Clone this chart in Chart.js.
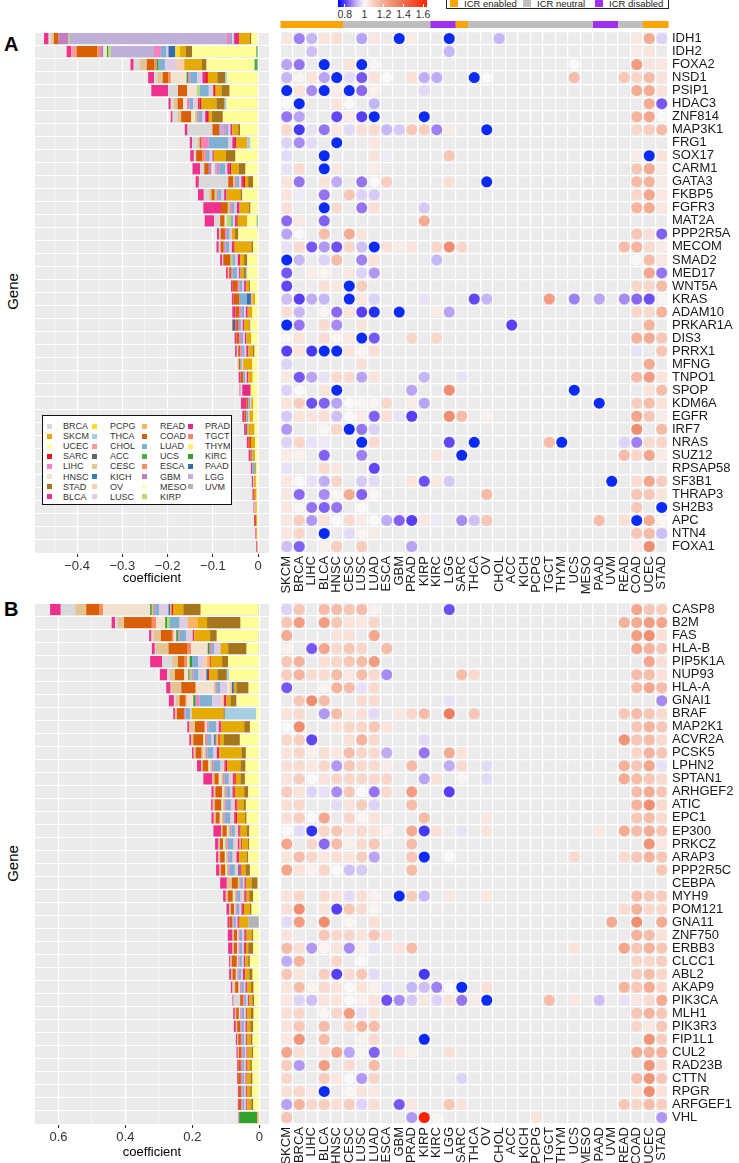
<!DOCTYPE html>
<html>
<head>
<meta charset="utf-8">
<script src="https://cdn.jsdelivr.net/npm/chart.js@4.4.1/dist/chart.umd.min.js"></script>
<style>
  body { margin: 0; width: 739px; height: 1163px; background: #fff; position: relative; overflow: hidden;
         font-family: "Liberation Sans", Arial, sans-serif; }
  canvas { position: absolute; z-index: 1; }
  .abs { position: absolute; white-space: nowrap; }
  #hrLegend, #icrLegend, #typeLegend { position: absolute; left: 0; top: 0; z-index: 5; }
</style>
</head>
<body>
<div class="abs" style="left:4px;top:33px;font-size:20px;font-weight:bold;">A</div>
<div class="abs" style="left:4px;top:598px;font-size:20px;font-weight:bold;">B</div>
<div class="abs" style="left:-8px;top:283px;font-size:15px;transform:rotate(-90deg);width:40px;text-align:center;">Gene</div>
<div class="abs" style="left:-8px;top:855px;font-size:15px;transform:rotate(-90deg);width:40px;text-align:center;">Gene</div>
<div id="hrLegend"></div>
<div id="icrLegend"></div>
<div id="typeLegend"></div>

<canvas id="barA" width="275" height="557" style="left:0;top:32px;"></canvas>
<canvas id="dotA" width="464" height="580" style="left:275px;top:20px;"></canvas>
<canvas id="barB" width="275" height="560" style="left:0;top:603px;"></canvas>
<canvas id="dotB" width="464" height="566" style="left:275px;top:597px;"></canvas>

<script>
// ---- categories ----
const dotCols = ["SKCM","BRCA","LIHC","BLCA","HNSC","CESC","LUSC","LUAD","ESCA","GBM","PRAD","KIRP","KIRC","LGG",
  "SARC","THCA","OV","CHOL","ACC","KICH","PCPG","TGCT","THYM","UCS","MESO","PAAD","UVM","READ","COAD","UCEC","STAD"];
const icrStatus = ["enabled","enabled","enabled","enabled","enabled",
  "neutral","neutral","neutral","neutral","neutral","neutral","neutral",
  "disabled","disabled","enabled",
  "neutral","neutral","neutral","neutral","neutral","neutral","neutral","neutral","neutral","neutral",
  "disabled","disabled","neutral","neutral","enabled","enabled"];
// stacking order of the bar segments (first = farthest from zero)
const stackOrder = ["ACC","BLCA","BRCA","CESC","CHOL","COAD","ESCA","GBM","HNSC","KICH","KIRC","KIRP","LGG","LIHC",
  "LUAD","LUSC","MESO","OV","PAAD","PCPG","PRAD","READ","SARC","SKCM","STAD","TGCT","THCA","THYM","UCEC","UCS","UVM"];
const legendOrder = ["BRCA","SKCM","UCEC","SARC","LIHC","HNSC","STAD","BLCA",
  "PCPG","THCA","CHOL","ACC","CESC","KICH","OV","LUSC",
  "READ","COAD","LUAD","UCS","ESCA","GBM","MESO","KIRP",
  "PRAD","TGCT","THYM","KIRC","PAAD","LGG","UVM"];

const genesA = ["IDH1","IDH2","FOXA2","NSD1","PSIP1","HDAC3","ZNF814","MAP3K1","FRG1","SOX17","CARM1","GATA3","FKBP5",
  "FGFR3","MAT2A","PPP2R5A","MECOM","SMAD2","MED17","WNT5A","KRAS","ADAM10","PRKAR1A","DIS3","PRRX1","MFNG","TNPO1",
  "SPOP","KDM6A","EGFR","IRF7","NRAS","SUZ12","RPSAP58","SF3B1","THRAP3","SH2B3","APC","NTN4","FOXA1"];
const genesB = ["CASP8","B2M","FAS","HLA-B","PIP5K1A","NUP93","HLA-A","GNAI1","BRAF","MAP2K1","ACVR2A","PCSK5","LPHN2",
  "SPTAN1","ARHGEF2","ATIC","EPC1","EP300","PRKCZ","ARAP3","PPP2R5C","CEBPA","MYH9","POM121","GNA11","ZNF750","ERBB3",
  "CLCC1","ABL2","AKAP9","PIK3CA","MLH1","PIK3R3","FIP1L1","CUL2","RAD23B","CTTN","RPGR","ARFGEF1","VHL"];

// ---- tick values ----
const ticksA = [-0.45,-0.4,-0.35,-0.3,-0.25,-0.2,-0.15,-0.1,-0.05,0];
const ticksB = [0.6,0.5,0.4,0.3,0.2,0.1,0];
const hrTicks = [0.8,1,1.2,1.4,1.6];

// ---- coefficients per gene (panel A, negative) ----
const coefA = [
  {BLCA:-.010,BRCA:-.006,CESC:-.006,COAD:-.010,GBM:-.022,KIRP:-.003,LGG:-.347,LIHC:-.007,LUAD:-.005,LUSC:-.004,PRAD:-.009,SARC:-.002,SKCM:-.024,STAD:-.003,UCEC:-.015},
  {BLCA:-.010,CHOL:-.012,COAD:-.046,ESCA:-.006,GBM:-.007,HNSC:-.008,KIRC:-.003,KIRP:-.005,LGG:-.096,LIHC:-.015,LUAD:-.012,LUSC:-.005,PAAD:-.015,PCPG:-.010,SKCM:-.013,STAD:-.014,UCEC:-.142,UCS:-.004},
  {BLCA:-.007,BRCA:-.013,CESC:-.016,COAD:-.017,ESCA:-.005,KIRC:-.004,LUAD:-.014,LUSC:-.027,OV:-.016,SKCM:-.039,STAD:-.010,UCEC:-.106,UCS:-.008},
  {BLCA:-.013,BRCA:-.007,CESC:-.012,COAD:-.013,ESCA:-.005,HNSC:-.035,KIRC:-.004,LIHC:-.004,LUAD:-.015,LUSC:-.012,PRAD:-.006,SARC:-.006,SKCM:-.021,STAD:-.017,THCA:-.004,UCEC:-.069},
  {BLCA:-.037,BRCA:-.022,COAD:-.020,HNSC:-.022,KIRP:-.006,LUAD:-.020,LUSC:-.010,SARC:-.005,SKCM:-.013,STAD:-.018,UCEC:-.063},
  {BLCA:-.005,BRCA:-.006,CESC:-.009,COAD:-.012,HNSC:-.009,LIHC:-.005,LUAD:-.008,LUSC:-.007,OV:-.004,PRAD:-.004,SARC:-.004,SKCM:-.033,STAD:-.018,THCA:-.004,UCEC:-.070},
  {BLCA:-.004,BRCA:-.011,CESC:-.008,COAD:-.022,HNSC:-.009,KIRP:-.004,LIHC:-.004,LUAD:-.008,LUSC:-.006,PRAD:-.004,SARC:-.004,SKCM:-.007,STAD:-.024,UCEC:-.078},
  {BLCA:-.006,BRCA:-.055,COAD:-.015,GBM:-.003,LGG:-.006,LIHC:-.005,LUAD:-.006,LUSC:-.005,PRAD:-.004,SKCM:-.013,STAD:-.004,UCEC:-.040},
  {BLCA:-.005,BRCA:-.012,CESC:-.005,COAD:-.004,LIHC:-.016,LUAD:-.043,LUSC:-.009,PRAD:-.006,SARC:-.003,SKCM:-.024,THCA:-.007,UCEC:-.017},
  {BLCA:-.008,BRCA:-.005,COAD:-.013,ESCA:-.006,LIHC:-.003,LUAD:-.008,LUSC:-.006,PRAD:-.003,SKCM:-.027,STAD:-.021,UCEC:-.050},
  {BLCA:-.017,BRCA:-.009,COAD:-.010,GBM:-.006,HNSC:-.007,LGG:-.005,LIHC:-.005,LUAD:-.013,LUSC:-.005,PRAD:-.005,SARC:-.004,SKCM:-.016,STAD:-.015,UCEC:-.028},
  {BLCA:-.007,BRCA:-.065,COAD:-.011,KIRP:-.003,LIHC:-.004,LUAD:-.006,LUSC:-.005,PRAD:-.004,SARC:-.004,SKCM:-.007,STAD:-.011,UCEC:-.011},
  {BLCA:-.013,BRCA:-.011,CESC:-.006,COAD:-.007,KIRP:-.004,LIHC:-.004,LUAD:-.007,LUSC:-.006,PRAD:-.005,SKCM:-.031,STAD:-.004,UCEC:-.035},
  {BLCA:-.039,COAD:-.015,KIRP:-.004,LIHC:-.005,LUAD:-.006,LUSC:-.005,PRAD:-.006,SKCM:-.021,STAD:-.003,UCEC:-.017},
  {BLCA:-.021,BRCA:-.013,COAD:-.010,HNSC:-.005,KIRP:-.009,LUAD:-.005,LUSC:-.004,PRAD:-.003,SARC:-.003,SKCM:-.021,UCEC:-.021,UCS:-.003},
  {BLCA:-.005,BRCA:-.003,COAD:-.010,LIHC:-.004,LUAD:-.006,LUSC:-.005,SKCM:-.007,STAD:-.007,UCEC:-.044},
  {BLCA:-.005,BRCA:-.004,COAD:-.007,LIHC:-.004,LUAD:-.008,LUSC:-.006,PRAD:-.003,SARC:-.003,SKCM:-.037,STAD:-.004,UCEC:-.011},
  {BLCA:-.005,BRCA:-.002,COAD:-.016,KIRP:-.004,LUAD:-.006,LUSC:-.006,PRAD:-.003,SARC:-.002,SKCM:-.009,STAD:-.007,UCEC:-.024},
  {BLCA:-.004,CESC:-.003,COAD:-.004,LIHC:-.003,LUAD:-.011,LUSC:-.004,PRAD:-.003,SKCM:-.007,STAD:-.005,THCA:-.003,UCEC:-.024},
  {BLCA:-.004,COAD:-.011,LIHC:-.004,LUAD:-.006,LUSC:-.004,PRAD:-.004,SKCM:-.007,STAD:-.002,UCEC:-.018},
  {BLCA:-.004,COAD:-.013,LUAD:-.016,PAAD:-.009,READ:-.004,SKCM:-.005,UCEC:-.007},
  {BLCA:-.007,COAD:-.009,LIHC:-.004,LUAD:-.006,LUSC:-.004,PRAD:-.004,SKCM:-.010,UCEC:-.013},
  {ACC:-.007,BLCA:-.003,COAD:-.004,LUAD:-.005,LUSC:-.004,PRAD:-.003,SKCM:-.012,STAD:-.002,UCEC:-.017},
  {BLCA:-.004,COAD:-.006,LIHC:-.004,LUAD:-.005,LUSC:-.004,PRAD:-.003,SKCM:-.011,UCEC:-.015},
  {BLCA:-.004,BRCA:-.003,COAD:-.005,LIHC:-.004,LUAD:-.005,LUSC:-.004,PRAD:-.004,SKCM:-.010,STAD:-.004,UCEC:-.008},
  {BRCA:-.003,COAD:-.004,LUAD:-.003,LUSC:-.003,SKCM:-.020,UCEC:-.013},
  {BLCA:-.004,COAD:-.006,LUAD:-.004,LUSC:-.004,PRAD:-.003,SKCM:-.010,UCEC:-.012},
  {BLCA:-.002,BRCA:-.004,PRAD:-.017,SKCM:-.003,UCEC:-.015},
  {BLCA:-.012,COAD:-.004,LUAD:-.004,LUSC:-.003,SKCM:-.004,UCEC:-.011},
  {BLCA:-.005,COAD:-.004,LUAD:-.004,LUSC:-.003,SKCM:-.008,UCEC:-.011},
  {BLCA:-.004,COAD:-.003,LUAD:-.003,SKCM:-.013,UCEC:-.008},
  {BLCA:-.003,COAD:-.003,SARC:-.003,SKCM:-.009,UCEC:-.007},
  {BLCA:-.004,COAD:-.003,LUAD:-.002,SKCM:-.005,UCEC:-.007},
  {BLCA:-.003,LUAD:-.006,SKCM:-.003,UCEC:-.004},
  {BLCA:-.003,LUSC:-.002,SKCM:-.004,UCEC:-.005},
  {BLCA:-.003,COAD:-.002,SKCM:-.004,UCEC:-.0035},
  {BLCA:-.002,LUSC:-.002,SKCM:-.003,UCEC:-.003},
  {BLCA:-.002,COAD:-.003,SKCM:-.002,UCEC:-.002},
  {BLCA:-.002,SKCM:-.002,UCEC:-.002},
  {BLCA:-.001,PRAD:-.0015,SKCM:-.001,UCEC:-.001}
];

// ---- coefficients per gene (panel B, positive) ----
const coefB = [
  {BLCA:.032,BRCA:.043,CESC:.033,COAD:.040,ESCA:.010,HNSC:.141,KIRC:.005,KIRP:.004,LIHC:.006,LUAD:.012,LUSC:.028,PAAD:.005,READ:.004,SARC:.005,SKCM:.030,STAD:.052,UCEC:.173,UCS:.002},
  {BLCA:.010,BRCA:.007,CESC:.020,COAD:.083,ESCA:.013,HNSC:.027,KIRC:.006,KIRP:.007,LUAD:.030,LUSC:.025,READ:.030,SKCM:.027,STAD:.100,UCEC:.056},
  {BLCA:.007,BRCA:.005,CESC:.023,COAD:.033,ESCA:.005,HNSC:.008,KIRC:.005,LIHC:.004,LUAD:.020,LUSC:.015,OV:.005,PRAD:.005,SKCM:.047,STAD:.020,UCEC:.125,UCS:.002},
  {BLCA:.009,BRCA:.003,CESC:.038,COAD:.055,ESCA:.012,HNSC:.050,KIRC:.006,LIHC:.007,LUAD:.007,LUSC:.018,SKCM:.023,STAD:.055,UCEC:.036,UCS:.002},
  {BLCA:.036,BRCA:.030,CESC:.017,COAD:.020,ESCA:.008,HNSC:.007,KIRC:.007,LUAD:.018,LUSC:.017,OV:.010,READ:.008,SARC:.003,SKCM:.034,STAD:.018,UCEC:.093},
  {BLCA:.022,BRCA:.008,CESC:.015,COAD:.028,HNSC:.012,KIRC:.004,KIRP:.005,LIHC:.006,LUAD:.015,LUSC:.016,OV:.008,PAAD:.005,SARC:.003,SKCM:.025,STAD:.028,THCA:.007,UCEC:.090},
  {BLCA:.013,CESC:.032,COAD:.043,HNSC:.055,KIRP:.004,LIHC:.005,LUAD:.010,LUSC:.022,MESO:.004,OV:.008,PAAD:.006,SKCM:.008,STAD:.036,UCEC:.032},
  {BLCA:.015,BRCA:.005,CESC:.012,COAD:.016,ESCA:.005,HNSC:.020,KIRC:.007,LIHC:.012,LUAD:.037,LUSC:.027,OV:.008,PRAD:.004,SARC:.004,SKCM:.012,STAD:.018,UCEC:.068},
  {BLCA:.005,CESC:.006,COAD:.021,LIHC:.004,LUAD:.015,LUSC:.004,SKCM:.095,STAD:.004,THCA:.093,UCEC:.010},
  {BLCA:.005,CESC:.018,COAD:.027,ESCA:.004,HNSC:.005,LIHC:.004,LUAD:.023,LUSC:.008,PRAD:.005,SARC:.003,SKCM:.068,STAD:.017,UCEC:.028},
  {BLCA:.005,CESC:.007,COAD:.030,HNSC:.006,KIRC:.003,LIHC:.005,LUAD:.010,LUSC:.008,PAAD:.005,READ:.008,SARC:.004,SKCM:.012,STAD:.048,UCEC:.058},
  {BLCA:.005,CESC:.006,COAD:.017,ESCA:.004,HNSC:.005,KIRP:.004,LIHC:.005,LUAD:.018,LUSC:.010,PRAD:.004,SARC:.003,SKCM:.067,STAD:.013,UCEC:.040},
  {BLCA:.012,CESC:.005,COAD:.017,HNSC:.006,KIRP:.004,LIHC:.006,LUAD:.020,LUSC:.008,OV:.004,PRAD:.004,SARC:.004,SKCM:.040,STAD:.015,UCEC:.041},
  {BLCA:.027,CESC:.006,COAD:.013,HNSC:.008,KIRP:.004,LIHC:.006,LUAD:.012,LUSC:.008,OV:.004,PRAD:.005,SARC:.004,SKCM:.014,STAD:.013,UCEC:.043},
  {BLCA:.007,CESC:.005,COAD:.020,HNSC:.005,KIRP:.004,LIHC:.005,LUAD:.010,LUSC:.007,PRAD:.004,SARC:.003,SKCM:.028,STAD:.012,UCEC:.033},
  {BLCA:.005,CESC:.006,COAD:.020,HNSC:.005,KIRP:.004,LIHC:.005,LUAD:.014,LUSC:.008,OV:.004,PRAD:.005,SARC:.003,SKCM:.018,STAD:.007,UCEC:.040},
  {BLCA:.007,CESC:.006,COAD:.012,HNSC:.006,KIRP:.004,LIHC:.005,LUAD:.016,LUSC:.008,OV:.004,PRAD:.005,SARC:.004,SKCM:.023,STAD:.005,UCEC:.038},
  {BLCA:.023,CESC:.004,COAD:.013,HNSC:.005,KIRP:.004,LIHC:.005,LUAD:.010,LUSC:.006,OV:.004,PRAD:.004,SARC:.003,SKCM:.018,STAD:.008,UCEC:.030},
  {BLCA:.010,CESC:.004,COAD:.010,HNSC:.005,KIRP:.004,LIHC:.005,LUAD:.017,LUSC:.008,OV:.005,PRAD:.005,READ:.005,SARC:.003,SKCM:.017,STAD:.004,UCEC:.030},
  {BLCA:.007,CESC:.005,COAD:.014,HNSC:.004,KIRP:.004,LIHC:.005,LUAD:.010,LUSC:.008,OV:.004,PRAD:.005,SARC:.003,SKCM:.022,STAD:.005,UCEC:.033},
  {BLCA:.010,CESC:.004,COAD:.014,HNSC:.004,KIRP:.004,LIHC:.005,LUAD:.015,LUSC:.006,OV:.004,PAAD:.003,PRAD:.004,SARC:.003,SKCM:.012,STAD:.013,UCEC:.028},
  {BLCA:.020,CESC:.015,COAD:.018,KIRP:.005,LIHC:.004,LUAD:.006,LUSC:.005,PRAD:.004,SKCM:.017,STAD:.018,UCEC:.005},
  {BLCA:.008,CESC:.006,COAD:.015,HNSC:.005,KIRP:.004,LIHC:.004,LUAD:.010,LUSC:.007,OV:.004,PRAD:.004,SARC:.003,SKCM:.008,STAD:.012,UCEC:.018},
  {BLCA:.008,CESC:.005,COAD:.010,HNSC:.004,LIHC:.004,LUAD:.008,LUSC:.006,PRAD:.004,SARC:.003,SKCM:.018,STAD:.005,UCEC:.023},
  {BLCA:.006,COAD:.008,LIHC:.004,LUAD:.007,LUSC:.005,PRAD:.003,SARC:.003,SKCM:.026,UVM:.033},
  {BLCA:.014,CESC:.004,COAD:.010,HNSC:.004,LIHC:.004,LUAD:.007,LUSC:.006,PRAD:.004,SARC:.003,SKCM:.015,STAD:.005,UCEC:.018},
  {BLCA:.013,CESC:.004,COAD:.010,HNSC:.004,LIHC:.004,LUAD:.007,LUSC:.005,PRAD:.003,SARC:.003,SKCM:.007,STAD:.015,UCEC:.018},
  {BLCA:.004,CESC:.004,COAD:.015,HNSC:.004,LIHC:.004,LUAD:.007,LUSC:.006,PRAD:.004,SKCM:.009,STAD:.005,UCEC:.028},
  {BLCA:.006,CESC:.004,COAD:.010,HNSC:.004,LIHC:.004,LUAD:.008,LUSC:.005,PRAD:.004,SARC:.003,SKCM:.012,STAD:.010,UCEC:.020},
  {BLCA:.005,BRCA:.004,CESC:.004,COAD:.010,HNSC:.004,LIHC:.004,LUAD:.008,LUSC:.005,PRAD:.004,SKCM:.012,STAD:.008,UCEC:.017},
  {BLCA:.003,BRCA:.020,COAD:.008,LIHC:.004,LUAD:.006,LUSC:.005,PRAD:.003,SKCM:.010,STAD:.006,UCEC:.015},
  {BLCA:.005,CESC:.004,COAD:.008,HNSC:.004,LIHC:.004,LUAD:.008,LUSC:.005,PRAD:.003,SKCM:.012,STAD:.008,UCEC:.017},
  {BLCA:.006,CESC:.004,COAD:.009,LIHC:.004,LUAD:.007,LUSC:.005,PRAD:.004,SKCM:.010,STAD:.009,UCEC:.018},
  {BLCA:.004,CESC:.003,COAD:.008,LIHC:.004,LUAD:.006,LUSC:.005,PRAD:.003,SKCM:.011,STAD:.006,UCEC:.020},
  {BLCA:.004,CESC:.003,COAD:.008,LIHC:.004,LUAD:.006,LUSC:.005,PRAD:.003,SKCM:.012,STAD:.005,UCEC:.018},
  {BLCA:.004,COAD:.007,LIHC:.004,LUAD:.006,LUSC:.005,PRAD:.003,SKCM:.010,STAD:.005,UCEC:.022},
  {BLCA:.003,COAD:.008,LIHC:.004,LUAD:.006,LUSC:.004,PRAD:.003,SKCM:.012,STAD:.006,UCEC:.020},
  {BLCA:.003,COAD:.007,LIHC:.004,LUAD:.006,LUSC:.004,PRAD:.003,SKCM:.010,STAD:.005,UCEC:.022},
  {BLCA:.003,COAD:.007,LIHC:.004,LUAD:.006,LUSC:.005,PRAD:.003,SKCM:.012,STAD:.006,UCEC:.018},
  {BLCA:.002,KIRC:.054,READ:.006}
];

// ---- hazard-ratio dots per gene (panel A) ----
const hrA = [
  {SKCM:1.04,BRCA:0.87,LIHC:0.92,BLCA:1.05,HNSC:1.06,LUSC:0.9,LUAD:1.04,GBM:0.76,PRAD:1.03,LGG:0.76,CHOL:0.92,COAD:1.04,UCEC:1.2,STAD:0.95},
  {LIHC:0.93,LGG:0.92,COAD:1.03,UCEC:1.05},
  {SKCM:0.9,BRCA:0.86,BLCA:0.76,CESC:1.05,LUSC:0.76,LUAD:1.01,UCS:1.0,COAD:1.25,UCEC:1.05,STAD:1.04},
  {SKCM:0.92,BRCA:1.01,LIHC:1.05,BLCA:0.9,HNSC:0.76,CESC:0.96,LUSC:0.83,LUAD:1.05,ESCA:1.0,PRAD:1.06,KIRP:0.91,KIRC:0.91,THCA:0.76,OV:1.0,UCS:1.15,READ:1.12,COAD:1.08,UCEC:1.15,STAD:1.05},
  {SKCM:0.76,BRCA:1.05,LIHC:0.88,BLCA:0.76,HNSC:1.03,CESC:0.76,LUSC:0.85,LUAD:1.02,KIRP:0.96,COAD:1.2,UCEC:1.2,STAD:1.05},
  {SKCM:1.0,BRCA:0.76,HNSC:1.05,CESC:1.0,LUAD:0.92,UCEC:1.2,STAD:0.83},
  {SKCM:0.86,BRCA:0.9,HNSC:0.81,CESC:1.03,LUSC:0.8,LUAD:0.76,KIRP:0.76,COAD:1.18,UCEC:1.22,STAD:1.0},
  {SKCM:1.07,BRCA:0.79,LIHC:0.97,BLCA:0.86,HNSC:1.04,CESC:0.96,LUSC:1.06,LUAD:1.07,ESCA:0.92,GBM:0.94,PRAD:1.12,KIRP:1.1,KIRC:0.87,LGG:1.03,OV:0.76,COAD:1.08,UCEC:1.1,STAD:1.15},
  {SKCM:0.95,BRCA:0.88,LIHC:0.96,HNSC:0.76,LUAD:1.04},
  {SKCM:0.96,BLCA:0.76,LUAD:1.05,ESCA:0.98,LGG:1.12,COAD:1.03,UCEC:0.76,STAD:1.05},
  {SKCM:0.97,BRCA:1.07,BLCA:0.76,HNSC:1.04,LUAD:1.03,COAD:1.12,UCEC:1.2,STAD:1.03},
  {SKCM:1.05,BRCA:0.86,BLCA:1.05,HNSC:0.91,LUSC:0.86,LUAD:1.0,ESCA:1.1,LGG:1.06,OV:0.76,COAD:1.15,UCEC:1.18,STAD:1.03},
  {SKCM:1.05,BRCA:0.98,BLCA:0.86,CESC:1.12,LUSC:0.95,LUAD:0.94,COAD:1.08,UCEC:1.22,STAD:1.04},
  {SKCM:1.06,BLCA:0.76,HNSC:1.07,LUSC:0.86,LUAD:1.06,KIRP:0.94,COAD:1.18,UCEC:1.2,STAD:1.04},
  {SKCM:0.85,BRCA:1.04,BLCA:0.84,KIRP:1.2},
  {SKCM:0.9,BRCA:1.0,BLCA:1.15,CESC:1.2,LUSC:1.05,COAD:1.12,UCEC:1.06,STAD:0.84},
  {SKCM:0.97,BRCA:1.07,LIHC:0.83,BLCA:0.89,HNSC:0.82,CESC:1.08,LUSC:0.93,LUAD:0.76,ESCA:1.06,GBM:1.03,PRAD:1.05,KIRC:1.08,LGG:1.3,SARC:1.08,READ:1.15,COAD:1.18,UCEC:1.07,STAD:1.03},
  {SKCM:0.76,BRCA:0.92,BLCA:0.95,HNSC:1.15,LUSC:0.87,LUAD:1.05,KIRC:0.92,COAD:1.0,UCEC:1.15,STAD:1.04},
  {SKCM:0.83,LIHC:1.03,BLCA:1.01,CESC:1.04,LUSC:0.95,LUAD:0.89,UCEC:1.22,STAD:0.86},
  {SKCM:0.81,BLCA:1.06,HNSC:1.04,CESC:0.76,LUSC:1.1,COAD:1.08,UCEC:1.08,STAD:1.15},
  {SKCM:0.93,BRCA:0.8,LIHC:0.91,BLCA:0.92,CESC:0.76,LUSC:1.04,LUAD:0.95,KIRP:0.97,THCA:0.81,OV:0.92,TGCT:1.25,UCS:0.87,PAAD:0.9,READ:0.88,COAD:0.85,UCEC:0.82,STAD:1.01},
  {SKCM:1.06,BRCA:0.92,BLCA:1.01,HNSC:0.85,CESC:1.05,LUSC:0.8,LUAD:0.77,GBM:0.76,KIRC:1.03,LGG:0.9,COAD:1.08,UCEC:1.07,STAD:1.18},
  {SKCM:0.76,BRCA:0.86,BLCA:1.07,HNSC:0.88,LUSC:1.05,ACC:0.8,UCEC:1.18},
  {SKCM:1.01,BRCA:1.05,BLCA:1.07,HNSC:1.01,CESC:1.04,LUSC:0.76,LUAD:0.83,PRAD:1.08,KIRC:1.08,COAD:1.18,UCEC:1.2,STAD:1.12},
  {SKCM:0.8,BRCA:1.05,LIHC:0.79,BLCA:0.76,HNSC:0.76,CESC:1.05,LUSC:1.01,LUAD:1.06,COAD:0.97,STAD:1.12},
  {SKCM:0.95,LUSC:1.06,UCEC:1.2},
  {SKCM:1.04,BRCA:0.83,LIHC:0.9,BLCA:0.97,HNSC:1.07,CESC:1.07,LUSC:0.9,LUAD:1.05,KIRP:0.92,SARC:0.97,COAD:1.15,UCEC:1.25,STAD:1.05},
  {SKCM:0.95,BRCA:1.0,BLCA:1.05,HNSC:0.76,PRAD:0.9,LGG:1.3,UCS:0.76,UCEC:1.05,STAD:1.15},
  {SKCM:1.05,BRCA:1.1,LIHC:0.82,BLCA:0.84,HNSC:0.9,CESC:1.0,LUSC:1.01,LUAD:1.01,ESCA:1.08,PRAD:1.03,KIRP:0.9,PAAD:0.76,COAD:1.1,UCEC:1.15,STAD:1.05},
  {SKCM:0.94,BRCA:1.05,LIHC:1.05,BLCA:1.06,HNSC:0.93,CESC:1.0,LUSC:1.03,LUAD:0.84,ESCA:1.06,GBM:0.97,PRAD:0.8,LGG:1.3,SARC:1.15,OV:1.02,COAD:1.22,UCEC:1.12,STAD:1.03},
  {SKCM:0.89,BLCA:1.01,HNSC:1.08,CESC:0.76,LUSC:0.86,LUAD:0.95,COAD:1.3,STAD:1.15},
  {SKCM:0.95,BRCA:1.08,LIHC:0.97,BLCA:0.98,LUSC:0.76,LUAD:1.07,LGG:0.81,THCA:0.76,TGCT:1.15,THYM:0.76,READ:0.95,COAD:0.87,UCEC:1.07,STAD:1.08},
  {SKCM:1.03,BRCA:1.02,BLCA:0.84,LUSC:0.87,KIRC:1.05,SARC:0.76,READ:1.15,COAD:1.08,UCEC:1.22,STAD:1.03},
  {SKCM:0.97,BLCA:1.07,HNSC:1.04,LUAD:0.81},
  {SKCM:1.04,BRCA:1.0,LIHC:0.97,BLCA:0.91,HNSC:1.08,LUSC:0.94,LUAD:0.96,PRAD:1.05,KIRP:0.82,KIRC:1.04,LGG:0.94,UVM:0.76,COAD:1.07,UCEC:1.22,STAD:1.1},
  {SKCM:1.04,BRCA:0.85,BLCA:0.88,HNSC:1.01,CESC:1.2,LUSC:0.84,LUAD:1.01,OV:1.15,COAD:1.12,UCEC:1.12,STAD:1.05},
  {SKCM:1.04,BRCA:1.01,LIHC:0.86,BLCA:0.84,HNSC:0.86,LUSC:1.0,COAD:1.12,STAD:0.76},
  {SKCM:1.04,BRCA:1.1,LIHC:0.89,BLCA:1.05,HNSC:1.0,CESC:1.07,LUSC:1.03,LUAD:1.0,ESCA:0.91,GBM:0.84,PRAD:0.8,KIRP:1.04,KIRC:0.98,SARC:0.88,THCA:0.93,OV:1.12,PAAD:1.15,READ:1.06,COAD:0.76,UCEC:1.2,STAD:1.01},
  {SKCM:1.04,BRCA:1.08,BLCA:0.76,CESC:0.96,LUSC:1.01,LUAD:1.03,COAD:1.12,UCEC:1.15,STAD:0.93},
  {SKCM:0.93,BRCA:0.84,BLCA:1.02,HNSC:1.1,LUSC:1.1,PRAD:0.9,COAD:1.03,UCEC:1.3}
];

// ---- hazard-ratio dots per gene (panel B) ----
const hrB = [
  {SKCM:0.95,BRCA:1.12,BLCA:1.15,HNSC:1.15,CESC:1.12,LUSC:1.15,LUAD:1.02,LGG:0.82,COAD:1.22,UCEC:1.12,STAD:1.1},
  {SKCM:1.12,BRCA:1.25,BLCA:1.25,HNSC:1.12,CESC:1.05,LUSC:1.04,LUAD:1.08,READ:1.18,COAD:1.2,UCEC:1.25,STAD:1.22},
  {SKCM:1.2,HNSC:1.05,CESC:1.06,LUAD:1.22,COAD:1.25,UCEC:1.3,STAD:1.06},
  {SKCM:1.02,LIHC:0.83,BLCA:1.22,HNSC:1.07,CESC:1.12,LUSC:1.08,ESCA:1.15,COAD:1.22,UCEC:1.18,STAD:1.12},
  {SKCM:1.12,BRCA:1.18,BLCA:1.06,HNSC:1.08,CESC:1.12,LUSC:1.15,LUAD:1.25,UCEC:1.22,STAD:1.06},
  {SKCM:1.1,BRCA:1.18,LIHC:1.07,BLCA:1.07,HNSC:1.15,CESC:1.04,LUSC:1.15,LUAD:1.07,ESCA:0.88,SARC:1.15,THCA:1.07,COAD:1.15,UCEC:1.15,STAD:1.05},
  {SKCM:0.83,BLCA:1.01,HNSC:1.18,CESC:1.15,LUSC:0.97,LUAD:1.07,COAD:1.15,UCEC:1.22,STAD:1.15},
  {BRCA:1.12,LIHC:1.3,BLCA:1.15,LUSC:1.07,LUAD:1.07,LGG:0.97,STAD:0.88},
  {SKCM:1.05,BRCA:1.07,BLCA:0.89,HNSC:1.15,CESC:1.04,LUSC:1.06,LUAD:0.96,GBM:1.04,PRAD:1.08,KIRP:1.15,LGG:1.35,THCA:1.12,READ:1.12,COAD:1.15,UCEC:1.12,STAD:1.07},
  {SKCM:1.0,BRCA:1.3,HNSC:1.05,CESC:1.08,LUSC:1.08,LUAD:1.12,ESCA:1.05,COAD:1.12,UCEC:1.18,STAD:1.12},
  {SKCM:1.08,BRCA:1.1,LIHC:0.81,CESC:1.06,LUSC:1.18,LUAD:1.07,KIRP:0.96,READ:1.28,COAD:1.12,UCEC:1.15,STAD:1.07},
  {SKCM:1.05,BRCA:1.08,LIHC:1.02,BLCA:1.06,HNSC:1.04,CESC:1.15,LUSC:1.08,LUAD:1.07,ESCA:0.91,KIRP:0.86,LGG:1.2,SARC:1.05,COAD:1.08,UCEC:1.18,STAD:1.12},
  {SKCM:1.06,BRCA:1.07,LIHC:1.04,BLCA:1.08,HNSC:0.89,CESC:1.12,LUSC:1.07,LUAD:1.07,ESCA:1.03,PRAD:1.15,LGG:0.91,SARC:1.07,OV:0.96,READ:1.18,COAD:1.12,UCEC:1.22,STAD:0.97},
  {SKCM:1.05,BRCA:1.1,LIHC:1.0,BLCA:1.05,HNSC:1.08,CESC:1.08,LUSC:1.08,LUAD:1.07,ESCA:1.08,KIRP:0.9,KIRC:1.06,SARC:1.01,OV:0.96,READ:1.2,COAD:1.15,UCEC:1.12,STAD:1.07},
  {SKCM:1.1,BRCA:1.05,LIHC:0.95,BLCA:0.97,HNSC:0.88,CESC:1.12,LUSC:1.0,LUAD:0.86,ESCA:1.07,PRAD:1.25,LGG:0.8,COAD:1.15,UCEC:1.2,STAD:1.12},
  {SKCM:1.06,BRCA:1.08,HNSC:0.96,CESC:1.05,LUSC:1.1,LUAD:0.95,PRAD:1.15,COAD:1.18,UCEC:1.3,STAD:1.07},
  {SKCM:1.06,BRCA:1.1,LIHC:1.0,BLCA:1.22,CESC:1.08,LUSC:1.01,LUAD:1.05,KIRP:1.15,OV:1.04,COAD:1.12,UCEC:1.15,STAD:1.07},
  {SKCM:1.0,BRCA:0.96,LIHC:0.78,BLCA:1.08,HNSC:1.12,CESC:1.05,LUSC:1.07,LUAD:1.05,ESCA:1.02,PRAD:1.2,KIRP:0.79,KIRC:1.06,SARC:0.97,OV:1.05,PAAD:1.04,READ:1.2,COAD:1.15,UCEC:1.2,STAD:1.12},
  {SKCM:1.22,LIHC:1.08,BLCA:0.85,HNSC:1.15,CESC:1.02,LUSC:1.07,LUAD:1.12,PRAD:1.15,UCEC:1.28,STAD:1.04},
  {SKCM:1.05,BRCA:1.15,LIHC:1.08,BLCA:1.04,HNSC:1.06,CESC:1.05,LUSC:1.1,LUAD:0.9,PRAD:1.12,KIRP:0.76,LGG:1.0,UCS:1.07,READ:1.07,COAD:1.12,UCEC:1.18,STAD:1.12},
  {SKCM:1.22,BRCA:1.05,LIHC:1.02,BLCA:1.08,HNSC:1.0,CESC:0.93,LUSC:0.94,PRAD:1.15,STAD:1.12},
  {},
  {SKCM:1.05,BRCA:1.08,BLCA:1.07,HNSC:1.05,CESC:0.96,LUSC:1.06,LUAD:1.02,GBM:0.76,PRAD:1.1,KIRP:0.92,LGG:1.04,OV:1.04,COAD:1.15,UCEC:1.12,STAD:1.1},
  {SKCM:1.06,BRCA:1.3,BLCA:1.05,HNSC:0.8,CESC:1.12,LUSC:1.07,LUAD:1.01,READ:1.07,COAD:1.18,UCEC:1.08,STAD:1.08},
  {SKCM:0.96,BRCA:1.25,BLCA:1.3,CESC:1.01,LUAD:1.06,UVM:1.2,COAD:1.3,STAD:1.2},
  {SKCM:1.05,BLCA:1.12,HNSC:1.08,CESC:1.08,LUSC:1.05,LUAD:1.12,ESCA:1.06,COAD:1.18,UCEC:1.15,STAD:1.05},
  {SKCM:1.15,BRCA:1.06,LIHC:0.89,BLCA:1.01,HNSC:1.05,CESC:0.88,LUSC:1.02,LUAD:0.97,GBM:1.05,PRAD:1.15,UCS:1.05,READ:1.22,COAD:1.12,UCEC:1.18,STAD:1.12},
  {SKCM:0.91,BRCA:1.18,HNSC:1.08,LUSC:1.0,COAD:1.08,UCEC:1.08,STAD:1.1},
  {SKCM:1.12,BRCA:1.05,BLCA:1.1,HNSC:0.8,CESC:1.07,LUSC:1.12,LUAD:0.96,KIRP:0.79,COAD:1.1,UCEC:1.15,STAD:1.08},
  {SKCM:1.05,BRCA:1.15,LIHC:1.02,BLCA:1.07,HNSC:1.05,CESC:1.0,LUSC:1.05,LUAD:1.02,ESCA:0.97,PRAD:0.92,KIRP:0.93,KIRC:0.87,LGG:1.0,SARC:0.76,OV:1.06,READ:1.18,COAD:1.12,UCEC:1.2,STAD:1.08},
  {SKCM:1.04,BRCA:0.95,LIHC:0.93,BLCA:1.05,HNSC:1.05,CESC:1.0,LUSC:1.02,LUAD:1.05,ESCA:0.82,GBM:0.88,PRAD:0.94,KIRP:1.04,KIRC:0.95,LGG:1.05,SARC:0.86,THCA:1.03,OV:0.76,TGCT:1.15,UCS:1.04,PAAD:0.93,READ:0.97,COAD:1.04,UCEC:1.07,STAD:1.2},
  {SKCM:1.06,BRCA:1.08,BLCA:1.01,HNSC:1.08,CESC:1.25,LUSC:0.97,LUAD:1.05,COAD:1.12,UCEC:1.18,STAD:1.12},
  {SKCM:1.05,BRCA:1.12,BLCA:1.15,CESC:1.08,LUSC:1.18,LUAD:1.15,COAD:1.08,UCEC:1.04,STAD:1.12},
  {SKCM:1.04,BRCA:1.28,BLCA:1.15,LUSC:1.02,LUAD:1.07,KIRP:0.76,UCEC:1.28,STAD:1.1},
  {SKCM:1.22,BRCA:1.06,BLCA:1.05,HNSC:1.22,CESC:0.9,LUSC:1.01,LUAD:0.84,GBM:1.05,PRAD:1.02,LGG:1.06,COAD:1.2,UCEC:1.18,STAD:1.18},
  {SKCM:1.1,BRCA:0.89,BLCA:1.25,CESC:1.07,LUAD:1.15,UCEC:1.28,STAD:1.07},
  {SKCM:1.08,BLCA:1.1,HNSC:1.04,CESC:1.0,LUSC:0.89,LUAD:1.08,SARC:0.95,COAD:1.15,UCEC:1.28,STAD:1.12},
  {SKCM:1.06,BRCA:1.08,LIHC:1.03,BLCA:0.76,CESC:1.01,LUSC:1.05,LUAD:1.04,COAD:1.05,UCEC:1.3,STAD:1.05},
  {SKCM:0.9,BRCA:1.18,LIHC:1.08,BLCA:1.1,HNSC:1.06,CESC:1.1,LUSC:0.95,LUAD:1.06,GBM:0.83,PRAD:1.04,LGG:1.12,SARC:1.05,READ:1.12,COAD:1.08,UCEC:1.15,STAD:1.1},
  {SKCM:1.12,PRAD:0.89,KIRP:1.65,KIRC:1.01,PCPG:1.05,STAD:0.89}
];

// ---- styles ----
const FONT = '"Liberation Sans", Arial, sans-serif';
const typeColors = {
  ACC:"#666666", BLCA:"#f0318b", BRCA:"#d9d9d9", CESC:"#e5c494", CHOL:"#fb9a99", COAD:"#d95f02", ESCA:"#fc8d62",
  GBM:"#c07fc2", HNSC:"#f3e2cf", KICH:"#377eb8", KIRC:"#33a02c", KIRP:"#b3de69", LGG:"#bfb0d9", LIHC:"#f781bf",
  LUAD:"#80b1d3", LUSC:"#decbe4", MESO:"#ffffcc", OV:"#fdcdac", PAAD:"#386cb0", PCPG:"#ffd92f", PRAD:"#e7298a",
  READ:"#fdb462", SARC:"#e41a1c", SKCM:"#e6ab02", STAD:"#a6761d", TGCT:"#fb8072", THCA:"#a6cee3", THYM:"#ffed6f",
  UCEC:"#ffff99", UCS:"#4daf4a", UVM:"#b3b3b3"
};
const icrColors = { enabled: "#ffa500", neutral: "#bebebe", disabled: "#a030f0" };
const hrStops = [
  [0.73,[0,0,255]],[0.76,[10,42,246]],[0.80,[88,62,245]],[0.85,[140,104,242]],[0.90,[185,163,244]],
  [0.95,[221,210,247]],[1.00,[250,248,248]],[1.05,[251,227,218]],[1.10,[249,205,189]],[1.20,[245,171,146]],
  [1.30,[240,141,111]],[1.40,[236,110,80]],[1.65,[255,32,0]]
];
function hrColor(v) {
  if (v <= hrStops[0][0]) return `rgb(${hrStops[0][1].join(",")})`;
  for (let i = 1; i < hrStops.length; i++) {
    const [v1, c1] = hrStops[i], [v0, c0] = hrStops[i - 1];
    if (v <= v1) {
      const t = (v - v0) / (v1 - v0);
      const c = c0.map((x, k) => Math.round(x + (c1[k] - x) * t));
      return `rgb(${c.join(",")})`;
    }
  }
  return `rgb(${hrStops[hrStops.length - 1][1].join(",")})`;
}

const panelBg = {
  id: "panelBg",
  beforeDraw(chart) {
    const { ctx, chartArea: a } = chart;
    ctx.save();
    ctx.fillStyle = "#ebebeb";
    ctx.fillRect(a.left, a.top, a.width, a.height);
    ctx.restore();
  }
};

const icrStrip = {
  id: "icrStrip",
  afterDraw(chart) {
    const { ctx, chartArea: a } = chart;
    const x = chart.scales.x;
    ctx.save();
    icrStatus.forEach((s, i) => {
      const x0 = x.getPixelForValue(i - 0.5), x1 = x.getPixelForValue(i + 0.5);
      ctx.fillStyle = icrColors[s];
      ctx.fillRect(x0, a.top - 11, x1 - x0 + 0.5, 7);
    });
    ctx.restore();
  }
};

function fmtTick(v) {
  if (Math.abs(v) < 1e-9) return "0";
  return (v < 0 ? "\u2212" : "") + Math.abs(v).toFixed(1);
}

function barChart(id, genes, coef, ticks, min, max, reverse, majorStep, axisH) {
  const isMajor = v => Math.abs(Math.round(v / majorStep) * majorStep - v) < 1e-6;
  const datasets = stackOrder.slice().reverse().map(t => ({
    label: t,
    data: genes.map((g, i) => (coef[i][t] !== undefined ? coef[i][t] : null)),
    backgroundColor: typeColors[t],
    borderWidth: 0,
    barPercentage: 0.86,
    categoryPercentage: 1
  }));
  new Chart(document.getElementById(id), {
    type: "bar",
    data: { labels: genes, datasets },
    options: {
      indexAxis: "y",
      responsive: false,
      animation: false,
      events: [],
      layout: { padding: { left: 35, right: 6, top: 0, bottom: 0 } },
      plugins: { legend: { display: false }, tooltip: { enabled: false } },
      scales: {
        x: {
          type: "linear", stacked: true, min, max, reverse,
          afterBuildTicks: s => { s.ticks = ticks.map(v => ({ value: v })); },
          grid: {
            color: "#ffffff",
            lineWidth: c => (c.tick && isMajor(c.tick.value) ? 1.1 : 0.55),
            tickColor: c => (c.tick && isMajor(c.tick.value) ? "#333333" : "rgba(0,0,0,0)"),
            tickLength: 4
          },
          border: { display: false },
          ticks: {
            autoSkip: false, maxRotation: 0, padding: 2, color: "#333333",
            font: { size: 13, family: FONT },
            callback: v => (isMajor(v) ? fmtTick(v) : "")
          },
          title: { display: true, text: "coefficient", color: "#000", font: { size: 13, family: FONT }, padding: { top: 0, bottom: 3 } },
          afterFit: s => { s.height = axisH; s.paddingLeft = 0; s.paddingRight = 0; }
        },
        y: {
          stacked: true,
          grid: { color: "#ffffff", lineWidth: 1, drawTicks: false, offset: true },
          border: { display: false },
          ticks: { display: false },
          afterFit: s => { s.width = 0; s.paddingTop = 0; s.paddingBottom = 0; }
        }
      }
    },
    plugins: [panelBg]
  });
}

function dotChart(id, genes, hr, padTop, axisH, extra) {
  const pts = [];
  genes.forEach((g, i) => {
    dotCols.forEach(c => {
      if (hr[i][c] !== undefined) pts.push({ x: c, y: g, v: hr[i][c] });
    });
  });
  new Chart(document.getElementById(id), {
    type: "scatter",
    data: {
      datasets: [{
        data: pts,
        pointRadius: 5.5,
        pointHoverRadius: 5.5,
        pointBorderWidth: 0,
        pointBackgroundColor: c => (c.raw ? hrColor(c.raw.v) : "#000")
      }]
    },
    options: {
      responsive: false,
      animation: false,
      events: [],
      layout: { padding: { left: 5, right: 0, top: padTop, bottom: 0 } },
      plugins: { legend: { display: false }, tooltip: { enabled: false } },
      scales: {
        x: {
          type: "category", labels: dotCols, offset: true,
          grid: { color: "#ffffff", lineWidth: 1.2, drawTicks: false, offset: true },
          border: { display: false },
          ticks: { autoSkip: false, minRotation: 90, maxRotation: 90, padding: 3, color: "#1a1a1a", font: { size: 13, family: FONT } },
          afterFit: s => { s.height = axisH; s.paddingLeft = 0; s.paddingRight = 0; }
        },
        y: {
          type: "category", labels: genes, position: "right", offset: true,
          grid: { color: "#ffffff", lineWidth: 1.2, drawTicks: false, offset: true },
          border: { display: false },
          ticks: { autoSkip: false, padding: 4, color: "#1a1a1a", font: { size: 13, family: FONT } },
          afterFit: s => { s.width = 71; s.paddingTop = 0; s.paddingBottom = 0; }
        }
      }
    },
    plugins: extra ? [panelBg, extra] : [panelBg]
  });
}

barChart("barA", genesA, coefA, ticksA, -0.493, 0.024, false, 0.1, 36);
barChart("barB", genesB, coefB, ticksB, -0.029, 0.67, true, 0.2, 39);
dotChart("dotA", genesA, hrA, 12, 47, icrStrip);
dotChart("dotB", genesB, hrB, 6, 39, null);

// ---- legends (HTML) ----
(function () {
  // colour bar
  const lo = 0.73, hi = 1.64, x0 = 338, w = 89;
  const stops = [];
  for (let k = 0; k <= 20; k++) {
    const v = lo + (hi - lo) * k / 20;
    stops.push(`${hrColor(v)} ${(k * 5)}%`);
  }
  let html = `<div class="abs" style="left:${x0}px;top:0;width:${w}px;height:7px;background:linear-gradient(to right, ${stops.join(",")});"></div>`;
  hrTicks.forEach(t => {
    const px = x0 + (t - lo) / (hi - lo) * w;
    html += `<div class="abs" style="left:${px - 0.5}px;top:4px;width:1px;height:3px;background:#fff;"></div>`;
    html += `<div class="abs" style="left:${px - 15}px;top:8px;width:30px;text-align:center;font-size:10.5px;color:#333;">${t}</div>`;
  });
  document.getElementById("hrLegend").innerHTML = html;

  // ICR legend box
  const items = [["enabled", 450, "ICR enabled"], ["neutral", 523, "ICR neutral"], ["disabled", 595, "ICR disabled"]];
  let icr = `<div class="abs" style="left:446px;top:-20px;width:221px;height:27px;border:1px solid #222;background:#fff;"></div>`;
  items.forEach(([k, x, txt]) => {
    icr += `<div class="abs" style="left:${x}px;top:-1px;width:8px;height:8px;background:${icrColors[k]};"></div>`;
    icr += `<div class="abs" style="left:${x + 14}px;top:-2px;font-size:9.5px;line-height:11px;color:#222;">${txt}</div>`;
  });
  document.getElementById("icrLegend").innerHTML = icr;

  // cancer type legend inside panel A
  const colX = [[47, 63], [92, 110], [142, 160], [188, 205]];
  let lg = `<div class="abs" style="left:42px;top:415px;width:188px;height:88px;border:1.5px solid #111;background:#fff;"></div>`;
  legendOrder.forEach((t, i) => {
    const col = Math.floor(i / 8), row = i % 8;
    const y = 426 + row * 10.1;
    lg += `<div class="abs" style="left:${colX[col][0]}px;top:${y - 2.5}px;width:5px;height:5px;background:${typeColors[t]};"></div>`;
    lg += `<div class="abs" style="left:${colX[col][1]}px;top:${y - 6}px;font-size:9px;line-height:12px;color:#333;">${t}</div>`;
  });
  document.getElementById("typeLegend").innerHTML = lg;
})();
</script>
</body>
</html>
